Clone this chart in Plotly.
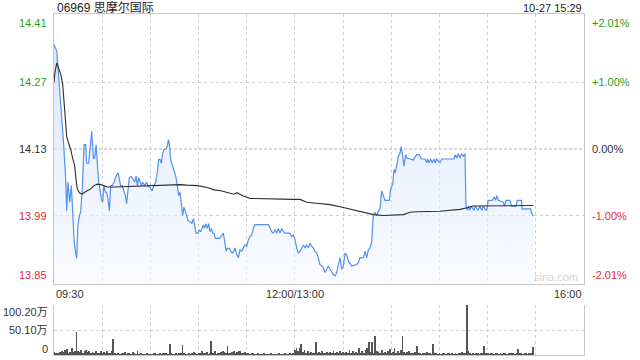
import plotly.graph_objects as go

# ---------------- data ----------------
title_text = "06969 思摩尔国际"
stamp_text = "10-27 15:29"
prev_close = 14.13
price_ticks = [14.41, 14.27, 14.13, 13.99, 13.85]
pct_ticks = ["+2.01%", "+1.00%", "0.00%", "-1.00%", "-2.01%"]
vol_ticks = [100.20, 50.10, 0]
vol_tick_text = ["100.20万", "50.10万", "0"]
x_labels = ["09:30", "12:00/13:00", "16:00"]
x_label_pos = [0, 150, 330]

# price line: minute index since 09:30 (lunch break removed) and price
price_min = [0, 1.7, 2.5, 4.2, 5.8, 7.3, 7.9, 8.7, 9.8, 10.8, 11.6, 12.5, 13.3, 14.1, 14.9, 15.8, 16.6,
             17.6, 18.7, 19.7, 20.3, 21.6, 22.4, 23.5, 24.5, 25.3, 26.2, 27, 27.8, 28.6, 29.5, 30.3,
             31.1, 32, 32.8, 33.6, 34.5, 35.3, 36.3, 37.4, 38.6, 39.9, 40.7, 41.5, 42.5, 43.6, 44.4,
             45.2, 46.1, 46.9, 48.2, 49.4, 50.2, 51.1, 51.9, 52.7, 53.5, 54.4, 55.2, 56.5, 57.7, 58.5,
             59.8, 61, 62.3, 63.3, 64.3, 65.2, 66, 66.8, 67.7, 68.5, 69.5, 70.6, 71.2, 72, 72.6, 73.7,
             74.7, 75.8, 76.8, 77.6, 78.5, 79.3, 80.1, 80.9, 81.8, 82.6, 83.4, 84.3, 85.1, 85.9, 86.8,
             87.6, 88.4, 89.7, 90.5, 91.3, 92.2, 93, 93.8, 94.6, 95.5, 96.3, 97.1, 98, 98.8, 99.6,
             100.5, 103, 104.6, 105.4, 106.3, 107.1, 107.9, 109.2, 110, 111, 112.1,
             112.7, 113.8, 114.8, 115.8, 116.9, 117.9, 118.9, 120, 121, 122.1, 123.1, 124.1, 125.2,
             133.5, 134.5, 135.5, 136.6, 137.6, 138.7, 139.7, 140.7, 141.8, 142.8, 143.8, 147, 148,
             149, 150.1, 151.1, 152.1, 153.2, 154.2, 155.3, 156.3, 157.3, 158.4, 159.4, 160.5, 161.5,
             162.5, 163.6, 164.6, 165.6, 166.7, 167.7, 168.8, 169.8, 170.8, 171.9, 172.9, 173.9, 175,
             176, 177.1, 178.1, 179.1, 180.2, 181.2, 182.2, 183.3, 185.4, 188.5, 189.5, 190.5, 192.6,
             193.7, 194.7, 195.7, 196.8, 197.8, 198.8, 199.9, 200.9, 202, 203, 204, 205.1, 206.1,
             208.8, 209.6, 210.9, 211.7, 212.5, 213.4, 214.4, 215.5, 216.1, 217.1, 217.9, 219, 219.8,
             221.7, 223.7, 225.8, 227.4, 228.9, 231, 232, 232.6, 233.5, 234.5, 235.5, 236.6, 237.4,
             238.2, 240.3, 241.4, 249, 249.9, 250.7, 251.7, 252.8, 253.8, 254.8, 255.9, 256.5, 257.3,
             258.2, 259, 259.8, 260.7, 261.5, 262.3, 264, 265.2, 266.3, 267.3, 268.3, 269.4, 270.4,
             273.1, 274.1, 275, 275.8, 276.6, 279.7, 280.6, 281.4, 283.9, 284.9, 287.6, 288.5, 291,
             291.4, 296.8, 297.4, 298.4]
price_val = [14.35, 14.336, 14.30, 14.232, 14.15, 14.066, 14.00, 14.06, 14.018, 14.053, 13.997, 13.94,
             13.915, 13.90, 13.97, 13.99, 13.997, 14.046, 14.139, 14.139, 14.10, 14.10, 14.129, 14.167,
             14.111, 14.111, 14.139, 14.087, 14.06, 14.046, 14.025, 14.018, 14.053, 14.039, 14.039,
             14.025, 14.0, 14.053, 14.053, 14.06, 14.073, 14.08, 14.066, 14.053, 14.053, 14.039,
             14.032, 14.015, 14.053, 14.07, 14.072, 14.066, 14.06, 14.073, 14.053, 14.07, 14.06,
             14.053, 14.06, 14.053, 14.06, 14.053, 14.049, 14.042, 14.053, 14.06, 14.08, 14.108,
             14.108, 14.10, 14.122, 14.129, 14.129, 14.136, 14.15, 14.136, 14.108, 14.094, 14.084,
             14.073, 14.053, 14.032, 14.039, 14.018, 13.99, 14.008, 14.0, 13.99, 13.98, 13.977,
             13.977, 13.973, 13.984, 13.963, 13.953, 13.953, 13.96, 13.956, 13.963, 13.97, 13.963,
             13.973, 13.963, 13.973, 13.956, 13.963, 13.953, 13.953, 13.942, 13.942, 13.949, 13.953,
             13.935, 13.915, 13.921, 13.921, 13.915, 13.911, 13.915,
             13.922, 13.908, 13.901, 13.918, 13.915, 13.922, 13.928, 13.925, 13.939, 13.946, 13.949,
             13.963, 13.971, 13.971, 13.963, 13.956, 13.953, 13.96, 13.953, 13.963, 13.953, 13.963,
             13.956, 13.953, 13.953, 13.946, 13.949, 13.939, 13.922, 13.911, 13.915, 13.922, 13.928,
             13.922, 13.928, 13.922, 13.932, 13.925, 13.922, 13.915, 13.911, 13.901, 13.887, 13.884,
             13.88, 13.87, 13.877, 13.884, 13.877, 13.87, 13.866, 13.863, 13.87, 13.887, 13.901,
             13.877, 13.884, 13.911, 13.908, 13.894, 13.884, 13.887, 13.891, 13.901, 13.901, 13.915,
             13.901, 13.918, 13.922, 13.935, 13.99, 13.997, 13.99, 14.0, 14.004, 14.042, 14.032,
             14.022, 14.022, 14.046, 14.056, 14.087, 14.08, 14.094, 14.115, 14.122, 14.135, 14.115,
             14.094, 14.118, 14.111, 14.109, 14.107, 14.118, 14.118, 14.109, 14.109, 14.101, 14.109,
             14.101, 14.109, 14.101, 14.109, 14.101, 14.109, 14.101, 14.109, 14.109, 14.118, 14.111,
             14.12, 14.111, 14.12, 14.115, 14.12, 14.011, 14.001, 14.01, 14.001, 14.01, 14.004,
             14.001, 14.01, 14.001, 14.01, 14.001, 14.01, 14.004, 14.001, 14.022, 14.022, 14.029,
             14.022, 14.032, 14.022, 14.018, 14.01, 14.022, 14.022, 14.01, 14.01, 14.022, 14.022,
             14.004, 14.004, 13.995, 13.989]

# average price line
avg_min = [0, 0.6, 1.7, 2.9, 4.2, 5.4, 6.6, 7.9, 9.1, 10.4, 11.6, 12.9, 13.7, 14.5, 15.8, 17.4, 19.1,
           20.8, 22.8, 24.9, 27, 29.1, 31.1, 33.2, 37.4, 45.7, 54, 62.3, 70.6, 74.7, 78.9, 83, 89.2,
           95.5, 99.6, 103.8, 107.9, 112.1, 113.8, 117.9, 122.1, 130.4, 138.7, 149, 153.2, 157.3,
           163.6, 171.9, 180.2, 188.5, 194.7, 198.8, 205.1, 213.4, 217.5, 221.7, 225.8, 240.3,
           252.8, 256.5, 261.1, 298.4]
avg_val = [14.27, 14.291, 14.311, 14.301, 14.287, 14.267, 14.218, 14.156, 14.142, 14.129, 14.111,
           14.094, 14.066, 14.046, 14.038, 14.035, 14.039, 14.042, 14.046, 14.053, 14.056, 14.055,
           14.053, 14.05, 14.05, 14.051, 14.053, 14.053, 14.054, 14.055, 14.055, 14.054, 14.053,
           14.049, 14.044, 14.042, 14.039, 14.035, 14.038, 14.031, 14.026, 14.025, 14.024, 14.024,
           14.024, 14.018, 14.016, 14.013, 14.007, 14.001, 13.996, 13.992, 13.99, 13.991, 13.992,
           13.997, 13.998, 13.999, 14.003, 14.006, 14.01, 14.011, 14.012]

# volume per minute, in 万 shares (minute 0 = 09:30)
volume = [7, 5, 4, 5, 6, 8, 6, 11, 12, 5, 7, 15, 6, 8, 46, 8, 6, 10, 5, 8, 11, 6, 9, 5, 7, 3, 9, 5, 4, 8,
          4, 6, 3, 8, 5, 3, 9, 33, 4, 2, 3, 2, 5, 3, 7, 2, 4, 3, 2, 6, 3, 2, 8, 2, 3, 1, 2, 1, 3, 1,
          2, 1, 3, 4, 2, 1, 3, 2, 5, 4, 3, 2, 22, 3, 1, 2, 4, 2, 5, 3, 20, 4, 2, 1, 3, 2, 4, 6, 3, 2,
          4, 5, 9, 3, 4, 6, 2, 4, 28, 5, 9, 2, 3, 4, 7, 8, 6, 4, 18, 5, 4, 6, 9, 3, 7, 8, 9, 5, 4, 6,
          3, 5, 2, 4, 3, 2, 1, 3, 2, 1, 2, 3, 2, 1, 2, 3, 1, 2, 2, 1, 3, 2, 1, 2, 4, 2, 1, 3, 2, 3,
          10, 14, 8, 15, 23, 6, 10, 4, 8, 3, 6, 4, 5, 26, 4, 6, 3, 9, 5, 3, 7, 4, 6, 3, 9, 5, 7, 4, 8, 5,
          6, 3, 7, 5, 10, 4, 8, 3, 6, 4, 14, 5, 9, 4, 10, 15, 26, 6, 27, 5, 38, 8, 6, 4, 11, 5, 7, 3, 9, 12,
          4, 6, 14, 3, 8, 5, 10, 38, 7, 4, 6, 9, 3, 5, 4, 6, 18, 3, 4, 2, 5, 3, 6, 4, 3, 2, 22, 4, 3, 2,
          3, 2, 4, 3, 2, 5, 3, 2, 4, 2, 3, 2, 5, 3, 6, 4, 3, 100.2, 8, 4, 2, 3, 2, 4, 3, 2, 4, 3, 18, 5,
          3, 2, 4, 3, 2, 4, 3, 2, 3, 2, 4, 3, 2, 3, 5, 4, 3, 2, 4, 12, 3, 5, 2, 4, 3, 2, 5, 3, 16]
vol_min = list(range(len(volume)))

# ---------------- styling ----------------
GREEN = "#1fa01f"
RED = "#ea2a2a"
DARK = "#333333"
GRID = "#cfcfcf"
FONT = "Liberation Sans, Arial, sans-serif"
CJK = "Liberation Sans, Noto Sans CJK SC, sans-serif"
W, H = 640, 360
x0, x1 = 54 / W, 584 / W
main_dom = [(H - 284) / H, (H - 14) / H]
vol_dom = [(H - 355) / H, (H - 305) / H]
ymin, ymax = 13.846, 14.414

fig = go.Figure()

fig.add_trace(go.Scatter(
    x=price_min, y=price_val, mode="lines",
    line=dict(color="#5191f0", width=1.2),
    fill="tozeroy",
    fillgradient=dict(type="vertical", start=ymin, stop=ymax,
                      colorscale=[[0, "rgba(245,248,255,0.6)"], [1, "rgba(200,218,250,0.75)"]]),
    hoverinfo="skip", xaxis="x", yaxis="y"))

fig.add_trace(go.Scatter(
    x=avg_min, y=avg_val, mode="lines", line=dict(color="#2b2b2b", width=1.1),
    hoverinfo="skip", xaxis="x", yaxis="y"))

fig.add_trace(go.Bar(
    x=vol_min, y=volume, width=0.55, marker=dict(color="#555555", line=dict(width=0)),
    hoverinfo="skip", xaxis="x2", yaxis="y2"))

grid_x = list(range(30, 330, 30))

fig.update_layout(
    width=W, height=H, margin=dict(l=0, r=0, t=0, b=0),
    paper_bgcolor="white", plot_bgcolor="white", showlegend=False, bargap=0,
    xaxis=dict(domain=[x0, x1], range=[0, 330], tickvals=grid_x, showticklabels=False,
               showgrid=True, gridcolor=GRID, griddash="dot", gridwidth=1,
               showline=True, linecolor="#c8c8c8", mirror=True, zeroline=False, ticks=""),
    yaxis=dict(domain=main_dom, range=[ymin, ymax], tickvals=[14.27, 13.99], showticklabels=False,
               showgrid=True, gridcolor=GRID, griddash="dot", gridwidth=1,
               showline=True, linecolor="#c8c8c8", mirror=True, zeroline=False, ticks=""),
    xaxis2=dict(domain=[x0, x1], range=[0, 330], anchor="y2", tickvals=grid_x, showticklabels=False,
                showgrid=True, gridcolor=GRID, griddash="dot", gridwidth=1,
                showline=True, linecolor="#c8c8c8", mirror=False, zeroline=False, ticks=""),
    yaxis2=dict(domain=vol_dom, range=[0, 100.2], anchor="x2", tickvals=[50.1, 100.2], showticklabels=False,
                showgrid=True, gridcolor=GRID, griddash="dot", gridwidth=1,
                showline=True, linecolor="#c8c8c8", mirror=True, zeroline=False, ticks=""),
)

# previous close reference line (dashed)
fig.add_shape(type="line", xref="x", yref="y", x0=0, x1=330, y0=prev_close, y1=prev_close,
              line=dict(color="#b0b0b0", width=1, dash="3px,2px"), layer="below")

ann = []
# left price labels & right percent labels
shift = [-7, 0, 0, 0, 7]
for i, (p, t) in enumerate(zip(price_ticks, pct_ticks)):
    col = GREEN if p > prev_close + 1e-9 else (RED if p < prev_close - 1e-9 else DARK)
    ann.append(dict(x=49 / W, xref="paper", y=p, yref="y", text=f"{p:.2f}", xanchor="right",
                    yanchor="middle", yshift=shift[i], showarrow=False, font=dict(size=11, color=col, family=FONT)))
    ann.append(dict(x=590 / W, xref="paper", y=p, yref="y", text=t, xanchor="left",
                    yanchor="middle", yshift=shift[i], showarrow=False, font=dict(size=11, color=col, family=FONT)))
# volume labels
vshift = [-7, 0, 6]
for v, t, s in zip(vol_ticks, vol_tick_text, vshift):
    ann.append(dict(x=50 / W, xref="paper", y=v, yref="y2", text=t, xanchor="right", yanchor="middle",
                    yshift=s, showarrow=False, font=dict(size=11, color=DARK, family=CJK)))
# time labels
anchors = ["left", "center", "right"]
for lab, pos, a in zip(x_labels, x_label_pos, anchors):
    ann.append(dict(x=pos, xref="x", y=(H - 294) / H, yref="paper", text=lab, xanchor=a, yanchor="middle",
                    showarrow=False, font=dict(size=11, color=DARK, family=FONT)))
# header
ann.append(dict(x=55 / W, xref="paper", y=(H - 7) / H, yref="paper", text=title_text, xanchor="left",
                yanchor="middle", showarrow=False, font=dict(size=12, color="#222222", family=CJK)))
ann.append(dict(x=584 / W, xref="paper", y=(H - 8) / H, yref="paper", text=stamp_text, xanchor="right",
                yanchor="middle", showarrow=False, font=dict(size=11, color="#222222", family=FONT)))
# watermark
ann.append(dict(x=580 / W, xref="paper", y=(H - 277) / H, yref="paper", text="sina.com", xanchor="right",
                yanchor="middle", showarrow=False, font=dict(size=11, color="#d4d4d4", family=FONT)))
fig.update_layout(annotations=ann)

fig.write_html("out.html")
